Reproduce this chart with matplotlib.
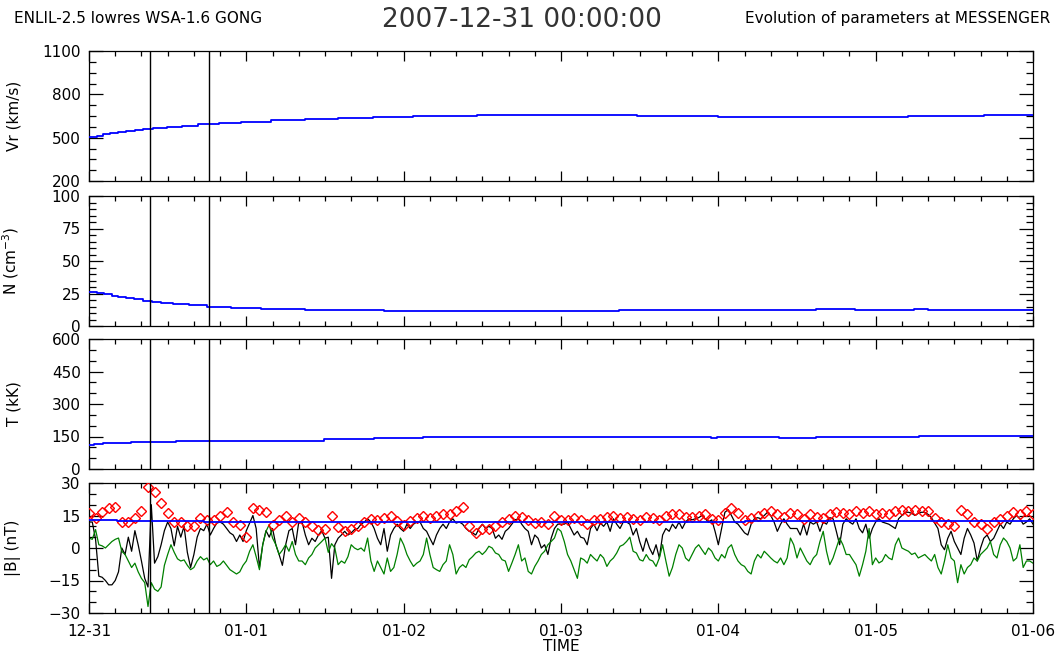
import numpy as np
import matplotlib
matplotlib.use("Agg")
import matplotlib.pyplot as plt
from matplotlib.ticker import MultipleLocator, FixedLocator

# x axis: days since 2007-12-31 00:00
day_labels = ["12-31", "01-01", "01-02", "01-03", "01-04", "01-05", "01-06"]
cme_lines = [0.385, 0.763]  # days

# model (blue) step profiles, start of each step in days
vr_t = [0, 0.05, 0.089, 0.136, 0.186, 0.237, 0.291, 0.342, 0.408, 0.497, 0.594, 0.691,
        0.827, 0.963, 1.157, 1.371, 1.584, 1.806, 2.058, 2.466, 3.48, 3.996, 5.204, 5.689]
vr_v = [502, 514, 526, 533, 542, 549, 556, 563, 570, 577, 584, 593,
        600, 610, 619, 626, 633, 640, 649, 656, 649, 642, 649, 656]

n_t = [0, 0.05, 0.097, 0.148, 0.186, 0.237, 0.283, 0.342, 0.4, 0.458, 0.536, 0.633,
       0.75, 0.905, 1.091, 1.371, 1.876, 3.371, 4.621, 4.866, 5.243, 5.332]
n_v = [26.2, 25.4, 24.4, 23.3, 22.3, 21.3, 20.5, 19.5, 18.7, 17.9, 17.2, 16.2,
       14.9, 14.1, 13.1, 12.3, 11.5, 12.3, 13.3, 12.6, 13.3, 12.6]

t_t = [0, 0.031, 0.089, 0.264, 0.555, 1.495, 1.81, 2.12, 3.953, 3.992, 4.388, 4.621, 5.274]
t_v = [111, 117, 120, 126, 131, 137, 142, 148, 142, 148, 142, 148, 154]

b_t_hours = [0, 4.3, 17.5, 36, 75, 100, 128]
b_model = [13.1, 12.6, 12.0, 11.8, 12.1, 12.3, 12.6]

# observed field, half-hour samples (nT)
b_black = [
    12, 12, 4, -13, -13.5, -15, -17, -17, -15, -11, 0, -3, 5,
    -1.5, 8, 1.5, -6, -14, -18, 20, -7, -4, 1.5, 8, 12, 9,
    1, 10, 5, 10, -2, -9, -3, 5, 9, 8, 11, 6, 9,
    11.5, 12, 11, 9, 7, 6, 3, 6, 3, 8, 11.5, 15, 9,
    -9, 1.5, 8, 5, 9, 1.5, -3, -8, 1.5, 8, 9, 1.5, 12,
    12, 6, 1.5, 4.5, 3, 6, 8, 4.5,
    5, -14, 1.5, 4.5, 6, 7.7, 6, 7, 8.5, 9, 11, 12,
    13.5, 12, 9, 4.5, 1.5, 9, -1.5, 6, 9, 11, 9, 7.7,
    11, 9, 11, 12, 12, 9, 7.7, 4.5, 1.5, 6, 9, 11,
    9, 12, 13.5, 11.5, 12, 11, 9, 7.7, 7, 6, 9, 11,
    9, 10, 9, 4.5, 6, 4, 7.7, 9, 11, 13, 13.5, 11,
    9, 7.7, 1.5, 6, 4.5, 0, 1.5, -3, 4.5, 9, 11, 11,
    11, 12, 9, 6, 7.7, 5, 4.5, 1.5, 9, 11, 8, 11.5,
    10, 12, 7.7, 13.5, 11, 9, 12, 12, 11, 6, 9, 3,
    -1.5, 4.5, 0, -3, 1.5, -4.6, 6, 9, 7.7, 11, 9, 12,
    9, 12, 13.5, 13, 13.5, 14, 15, 13.5, 12, 13, 7.7, 1.5,
    9, 16.5, 17.7, 15, 12, 11, 9, 7, 6, 11, 13.5, 14,
    13.5, 15, 16.5, 15, 12, 7.7, 11, 13.5, 11, 9, 9,
    9, 6, 11, 6, 12, 11, 12, 7.7, 12, 11, 14, 13.5,
    7.7, 1.5, 11, 13.5, 12, 11, 13.5, 9, 7, 11, 4.5, 9,
    12, 13.5, 12, 11.5, 11, 10, 9, 13.5, 15, 16.5, 16.5, 16,
    15, 16, 16.5, 16.5, 15.5, 14, 11.5, 9, 1.5, -0.8, 4.5, 7.7,
    3, 0, -3, 4.5, 9, 6, 2.3, -6, 0, 4.5, 6, 3,
    4.5, 7.7, 11, 9, 12, 11, 13.5, 15, 13.5, 11, 12, 13.5,
    11,
]
b_green = [
    4.6, 4, 8.5, 1.5, 1, 0, 1.5, 3, 4, 4.6, -1.5, -3, -6,
    -9, -7, -11, -14, -16, -27, -16, -19, -20, -18, -8, -3, 1.5,
    -2, -5, -6, -5.5, -8, -10, -9, -6, -4, -5.5, -4.6, -7.7, -6,
    -8.5, -7.7, -6, -8, -10, -11, -12, -11, -8, -6, -1.5, 1.5, -4,
    -10, 1.5, 7.7, 10.8, 4.6, 1.5, -3, -1, 1.5, -1.5, 3, -3, -6,
    -6, -7.7, -4.6, -3, 0, 1.5, 3, 4.6,
    -2, 2, 0, -7.7, -6, -7, -4, 1.5, 0, -0.8, 0, -1.5,
    4.6, -6, -10.8, -6, -9, -12, -4.6, -10.8, -9, -3, 4.6, 1.5,
    -3, -6, -8.5, -7, -6, -3, 4.6, -3, -9, -10, -10.8, -7.7,
    -6, 1.5, -3, -12, -9, -7.7, -9, -5.4, -4, -2.3, -1.5, -3,
    -1.5, 0.8, 0, -2.3, -3, -5.4, -6, -10.8, -7, -3, 1.5, -6,
    -4.6, -10.8, -12, -8.5, -6, -3, -1.5, 1.5, 3, 4.6, 9, 7.7,
    3, -3, -6, -10, -14, -4.6, -5.4, -7, -3, -4.6, -6, -3,
    -4.6, -8.5, -6, -4.6, -2.3, 0.8, 1.5, 3, 5, -1.5, -2.3, -5.4,
    -6, -3, -5.4, -6, -8.5, -4.6, 1.5, -6, -13, -9, -3, 1.5,
    0, -4.6, -6, -3, 0, 1.5, -0.8, -3, 0, -1.5, -4.6, -6,
    -3, -4.6, 0, 1.5, -3, -6, -7.7, -8.5, -10.8, -12, -6, -3,
    -4.6, -1.5, -3, -4.6, -6, -6.9, -4.6, -7.7, -4.6, 4.6, 1.5,
    -4.6, 0, -3, -6, -7.7, -4.6, -3, 3, 7.7, -1.5, -7.7, -4.6,
    0, 4.6, 1.5, -3, -3, -5.4, -7.7, -13, -7.7, -1.5, 9, -7.7,
    -4.6, -6.9, -6, -3, -4.6, -5.4, 1.5, 4.6, 0, -0.8, -1.5, -3,
    -2.3, -4.6, -3.8, -3, -4.6, -6, -3, -9, -12, -6, 1.5, -4.6,
    -6, -16, -7.7, -12, -9, -7.7, -4.6, -6, -3, -1.5, 0, 3,
    -3, -4.6, 1.5, 4.6, 3, 0, -6, -4.6, 1.5, -9, -6, -6,
    -7,
]
# |B| hourly samples (red diamonds)
b_red = [
    16, 14, 16.5, 18.5, 19, 12, 12, 14, 17, 28, 26, 21,
    16, 12, 12, 10, 10, 14, 13, 13, 15, 16.5, 12, 10.8,
    5, 18.5, 17.7, 16.5, 10.8, 13, 15, 12, 13.8, 12, 10, 8.5,
    9, 15, 9.5, 8, 9, 10, 12, 13.5, 13, 14, 15, 12.5,
    10.8, 12.5, 14, 15, 14, 15, 15.5, 15.5, 17, 19, 10, 7,
    9, 9, 10, 12, 13.5, 15, 14.5, 13, 11.5, 12, 11, 15,
    13, 13, 14, 13, 11, 13, 13.5, 14.5, 15, 14, 14.5, 13.5,
    13, 14.5, 14, 13, 15, 15.5, 15.5, 14.5, 14.5, 15, 15.5, 13.5,
    13, 16, 18.5, 16, 13, 14, 15, 16, 16.9, 15.5, 14.5, 16,
    15.5, 13.5, 15.5, 14.5, 13.8, 15.5, 16.5, 16, 15.5, 16.9, 16, 16.9,
    15.5, 16, 15.5, 16.9, 17.7, 16.9, 17.7, 16.9, 16.9, 13.8, 12, 11,
    10, 17.7, 15.5, 12, 11, 9, 12, 13.5, 15, 16.5, 15.5, 16.9,
    15.5,
]

t_half = np.arange(len(b_black)) * 0.5 / 24.0
t_hour = np.arange(len(b_red)) / 24.0

plt.rcParams['font.family'] = ['DejaVu Sans']
fig = plt.figure(figsize=(10.6, 6.57), dpi=100)

L, W, H = 89 / 1060, 944 / 1060, 130 / 657
bottoms = [476 / 657, 331 / 657, 188 / 657, 44 / 657]
axes = [fig.add_axes([L, b, W, H]) for b in bottoms]

# (ylim, major ticks, minor step, label)
specs = [
    ((200, 1100), [200, 500, 800, 1100], 75, "Vr (km/s)"),
    ((0, 100), [0, 25, 50, 75, 100], 5, r"N (cm$^{-3}$)"),
    ((0, 600), [0, 150, 300, 450, 600], 50, "T (kK)"),
    ((-30, 30), [-30, -15, 0, 15, 30], 5, "|B| (nT)"),
]


def step(ax, t, v):
    ax.plot(list(t) + [6], list(v) + [v[-1]], drawstyle="steps-post", color="blue", lw=1.3, zorder=4)


for ax, (ylim, major, minor, lab) in zip(axes, specs):
    ax.set_xlim(0, 6)
    ax.set_ylim(*ylim)
    ax.xaxis.set_major_locator(MultipleLocator(1))
    ax.xaxis.set_minor_locator(MultipleLocator(1 / 6))
    ax.yaxis.set_major_locator(FixedLocator(major))
    ax.yaxis.set_minor_locator(FixedLocator(np.arange(ylim[0], ylim[1] + 0.1, minor)))
    ax.tick_params(which="both", direction="in", top=True, right=True, width=0.9)
    ax.tick_params(axis="y", which="major", length=10, pad=6, labelsize=11)
    ax.tick_params(axis="y", which="minor", length=5)
    ax.tick_params(axis="x", which="major", length=7, pad=8, labelsize=11)
    ax.tick_params(axis="x", which="minor", length=3.5)
    ax.set_ylabel(lab, fontsize=11)
    ax.yaxis.set_label_coords(-0.072, 0.5)
    for s in ax.spines.values():
        s.set_linewidth(0.9)
    for c in cme_lines:
        ax.axvline(c, color="black", lw=1, zorder=5)
    if ax is not axes[-1]:
        ax.set_xticklabels([])

axes[-1].set_xticks(range(7))
axes[-1].set_xticklabels(day_labels)
axes[-1].set_xlabel("TIME", fontsize=11, labelpad=0)

step(axes[0], vr_t, vr_v)
step(axes[1], n_t, n_v)
step(axes[2], t_t, t_v)

axB = axes[3]
axB.plot(t_half, b_black, color="black", lw=0.9, zorder=2)
axB.plot(t_half, b_green, color="green", lw=0.9, zorder=2)
axB.plot(t_hour, b_red, ls="none", marker="D", ms=5, mfc="none", mec="red", mew=1.0, zorder=3)
step(axB, [h / 24 for h in b_t_hours], b_model)

fig.text(0.013, 0.972, "ENLIL-2.5 lowres WSA-1.6 GONG", fontsize=11, va="center")
fig.text(0.492, 0.970, "2007-12-31 00:00:00", fontsize=19, va="center", ha="center", color="#333333")
fig.text(0.991, 0.972, "Evolution of parameters at MESSENGER", fontsize=11, va="center", ha="right")

fig.savefig("out.png", dpi=100)
